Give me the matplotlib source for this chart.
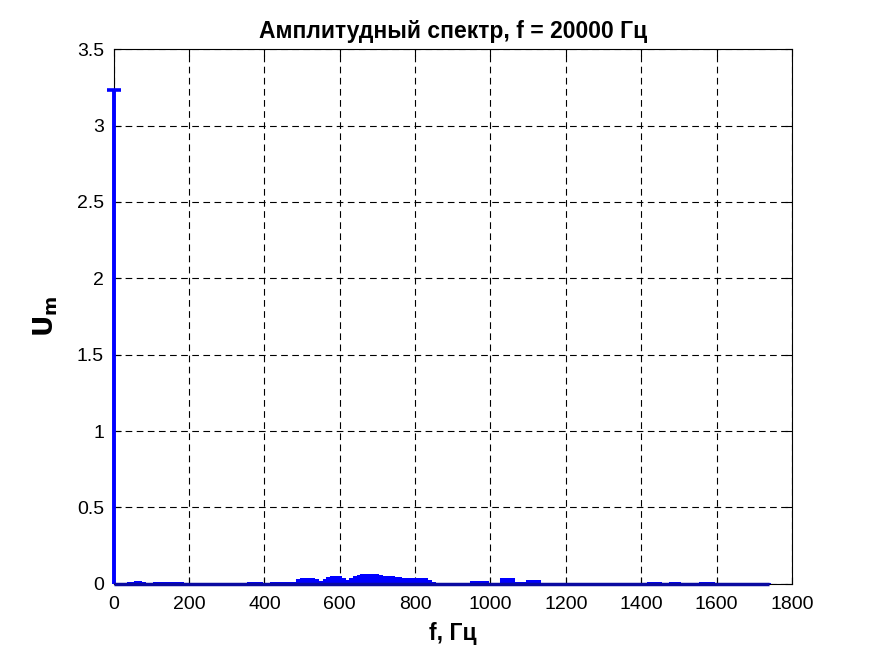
import matplotlib
matplotlib.use("Agg")
import matplotlib.pyplot as plt
import numpy as np

plt.rcParams['font.family'] = ['Liberation Sans', 'DejaVu Sans']

# spectrum, 10 Hz step from 0 to 1740 Hz
freqs = np.arange(0, 1750, 10)
amps = [
    3.23, 0.005, 0.005, 0.005, 0.012, 0.015, 0.016, 0.016, 0.014, 0.006,   # 0-90
    0.006, 0.012, 0.012, 0.012, 0.012, 0.012, 0.012, 0.012, 0.012, 0.003,  # 100-190
    0.003, 0.003, 0.003, 0.003, 0.003, 0.003, 0.003, 0.003, 0.003, 0.003,  # 200-290
    0.003, 0.003, 0.003, 0.003, 0.003, 0.003, 0.010, 0.010, 0.010, 0.010,  # 300-390
    0.004, 0.004, 0.012, 0.012, 0.012, 0.012, 0.012, 0.012, 0.015, 0.030,  # 400-490
    0.035, 0.036, 0.036, 0.035, 0.033, 0.020, 0.030, 0.045, 0.050, 0.050,  # 500-590
    0.050, 0.040, 0.025, 0.035, 0.050, 0.058, 0.062, 0.065, 0.067, 0.067,  # 600-690
    0.065, 0.055, 0.050, 0.050, 0.050, 0.048, 0.042, 0.040, 0.040, 0.040,  # 700-790
    0.040, 0.040, 0.040, 0.040, 0.025, 0.010, 0.004, 0.004, 0.004, 0.004,  # 800-890
    0.004, 0.004, 0.004, 0.004, 0.004, 0.020, 0.020, 0.020, 0.020, 0.020,  # 900-990
    0.006, 0.006, 0.006, 0.035, 0.035, 0.035, 0.035, 0.015, 0.015, 0.015,  # 1000-1090
    0.025, 0.025, 0.025, 0.025, 0.004, 0.004, 0.004, 0.004, 0.004, 0.004,  # 1100-1190
    0.004, 0.004, 0.004, 0.004, 0.004, 0.004, 0.004, 0.004, 0.004, 0.004,  # 1200-1290
    0.004, 0.004, 0.004, 0.004, 0.004, 0.004, 0.004, 0.004, 0.004, 0.004,  # 1300-1390
    0.004, 0.004, 0.012, 0.012, 0.012, 0.012, 0.004, 0.004, 0.012, 0.012,  # 1400-1490
    0.012, 0.004, 0.004, 0.004, 0.004, 0.004, 0.012, 0.012, 0.012, 0.012,  # 1500-1590
    0.003, 0.003, 0.003, 0.003, 0.003, 0.003, 0.003, 0.003, 0.003, 0.003,  # 1600-1690
    0.003, 0.003, 0.003, 0.003, 0.003,                                      # 1700-1740
]
amps = np.array(amps)

fig = plt.figure(figsize=(8.75, 6.56), dpi=100)
ax = fig.add_axes([0.13, 0.11, 0.775, 0.815])

ax.vlines(freqs[1:], 0, amps[1:], color='#0000ff', linewidth=2.9, zorder=3)
ax.vlines(freqs[0], 0, amps[0], color='#0000ff', linewidth=2.8, zorder=3, clip_on=False)
ax.plot([freqs[0]], [amps[0]], marker='_', color='#0000ff', markersize=9.5, mew=2.6,
        zorder=3, clip_on=False)
ax.plot([freqs[0], freqs[-1]], [0, 0], color='#0a0aa0', linewidth=2.5,
        solid_capstyle='butt', zorder=3, clip_on=False)

ax.set_xlim(0, 1800)
ax.set_ylim(0, 3.5)
ax.set_xticks(np.arange(0, 1801, 200))
ax.set_yticks(np.arange(0, 3.51, 0.5))
ax.set_yticklabels(['0', '0.5', '1', '1.5', '2', '2.5', '3', '3.5'])
ax.grid(True, color='black', linestyle=(0, (6, 4)), linewidth=0.8)
ax.set_axisbelow(True)
ax.tick_params(direction='in', top=True, right=True, labelsize=14, length=5)
ax.tick_params(axis='x', pad=9)
ax.tick_params(axis='y', pad=7)
for s in ax.spines.values():
    s.set_linewidth(0.8)

ax.set_title('Амплитудный спектр, f = 20000 Гц', fontsize=16.5, fontweight='bold', pad=8)
ax.set_xlabel('f, Гц', fontsize=16.5, fontweight='bold', labelpad=6)
ax.set_ylabel(r'$\mathbf{U_m}$', fontsize=19, labelpad=12)

fig.savefig('out.png', dpi=100)
